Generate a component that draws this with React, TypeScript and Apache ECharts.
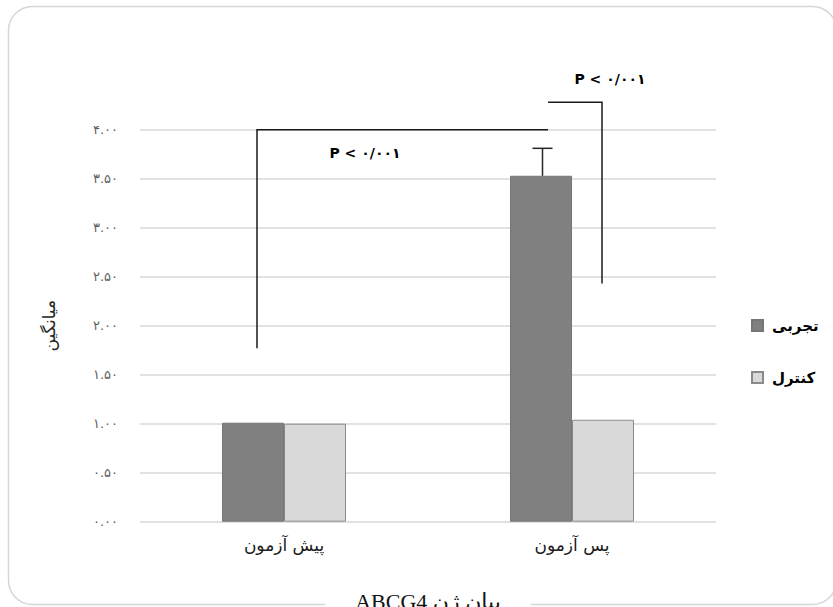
import React, { useEffect, useRef } from 'react';
import * as echarts from 'echarts';

// ---- data ----
const categories = ['پیش آزمون', 'پس آزمون'];
const seriesNames = ['تجربی', 'کنترل'];
const experimentalValues = [1.01, 3.53];
const controlValues = [1.0, 1.04];
// error bar on experimental post-test: [category index, bar value, upper value]
const errorBars = [[1, 3.53, 3.81]];
const yTickLabels = ['۰.۰۰', '۰.۵۰', '۱.۰۰', '۱.۵۰', '۲.۰۰', '۲.۵۰', '۳.۰۰', '۳.۵۰', '۴.۰۰'];
const yAxisTitle = 'میانگین';
const xAxisTitle = 'ABCG4 بیان ژن';
const pLabel = 'P < ۰/۰۰۱';
// significance brackets (value levels)
const bracketAValues = [1.77, 4.0]; // left leg bottom, horizontal level
const bracketBValues = [4.28, 2.43]; // horizontal level, right leg bottom
const pLabelLevels = [3.76, 4.52];

const ARABIC_FONT = '"DejaVu Sans", sans-serif';

export default function App() {
  const ref = useRef<HTMLDivElement>(null);
  useEffect(() => {
    if (!ref.current) return;
    const chart = echarts.init(ref.current, null, { renderer: 'svg' });
    const option: any = {
      animation: false,
      backgroundColor: '#ffffff',
      graphic: [
        {
          type: 'rect',
          z: 0,
          silent: true,
          shape: { x: 8.5, y: 6.5, width: 828, height: 598, r: 24 },
          style: { fill: 'none', stroke: '#d6d6d6', lineWidth: 1.5 },
        },
      ],
      grid: {
        left: 140,
        right: 117,
        top: 129.7,
        bottom: 607 - 521.7,
        containLabel: false,
        outerBoundsMode: 'none',
      },
      legend: {
        orient: 'vertical',
        left: 751,
        top: 318,
        padding: 0,
        itemWidth: 11,
        itemHeight: 11,
        itemGap: 37,
        icon: 'rect',
        data: seriesNames,
        textStyle: {
          fontFamily: ARABIC_FONT,
          fontWeight: 'bold',
          fontSize: 15,
          color: '#000000',
          padding: [10, 0, 0, 4],
        },
      },
      xAxis: {
        type: 'category',
        data: categories,
        z: 10,
        axisLine: { show: false },
        axisTick: { show: false },
        axisLabel: {
          fontFamily: ARABIC_FONT,
          fontSize: 17,
          color: '#1a1a1a',
          margin: 15,
        },
        name: xAxisTitle,
        nameLocation: 'middle',
        nameGap: 67,
        nameTextStyle: {
          fontFamily: '"Liberation Serif", "DejaVu Sans", serif',
          fontSize: 22,
          color: '#111111',
          backgroundColor: '#ffffff',
          padding: [2, 30, 4, 30],
        },
      },
      yAxis: {
        type: 'value',
        min: 0,
        max: 4,
        interval: 0.5,
        axisLine: { show: false },
        axisTick: { show: false },
        splitLine: { lineStyle: { color: '#d9d9d9', width: 1.5 } },
        axisLabel: {
          fontFamily: ARABIC_FONT,
          fontSize: 13,
          color: '#606060',
          margin: 22,
          formatter: (v: number) => yTickLabels[Math.round(v / 0.5)] ?? '',
        },
        name: yAxisTitle,
        nameLocation: 'middle',
        nameRotate: 90,
        nameGap: 83,
        nameTextStyle: { fontFamily: ARABIC_FONT, fontSize: 17, color: '#262626' },
      },
      series: [
        {
          name: seriesNames[0],
          type: 'bar',
          data: experimentalValues,
          barWidth: 62,
          barGap: '0%',
          itemStyle: { color: '#808080', borderColor: '#767676', borderWidth: 1 },
        },
        {
          name: seriesNames[1],
          type: 'bar',
          data: controlValues,
          barWidth: 62,
          barGap: '0%',
          itemStyle: { color: '#d9d9d9', borderColor: '#8a8a8a', borderWidth: 1 },
        },
        {
          type: 'custom',
          name: 'error',
          data: errorBars,
          z: 5,
          silent: true,
          renderItem: (params: any, api: any) => {
            const c = api.value(0);
            const base = api.coord([c, api.value(1)]);
            const top = api.coord([c, api.value(2)]);
            const x = base[0] - 29.5;
            return {
              type: 'group',
              children: [
                { type: 'line', shape: { x1: x, y1: base[1], x2: x, y2: top[1] }, style: { stroke: '#262626', lineWidth: 1.5 } },
                { type: 'line', shape: { x1: x - 10, y1: top[1], x2: x + 10, y2: top[1] }, style: { stroke: '#262626', lineWidth: 1.5 } },
              ],
            };
          },
        },
        {
          type: 'custom',
          name: 'brackets',
          data: [[0, 0]],
          z: 6,
          silent: true,
          clip: false,
          renderItem: (params: any, api: any) => {
            const a0 = api.coord([0, bracketAValues[0]]);
            const a1 = api.coord([0, bracketAValues[1]]);
            const a2 = api.coord([1, bracketAValues[1]]);
            const xl = a0[0] - 27;
            const xr = a2[0] - 24;
            const b0 = api.coord([1, bracketBValues[0]]);
            const b1 = api.coord([1, bracketBValues[1]]);
            const xr2 = b0[0] + 30;
            const t1 = api.coord([0, pLabelLevels[0]]);
            const t2 = api.coord([1, pLabelLevels[1]]);
            const lineStyle = { stroke: '#1a1a1a', lineWidth: 1.5, fill: 'none' };
            const textStyle = {
              fontFamily: ARABIC_FONT,
              fontWeight: 'bold',
              fontSize: 14,
              fill: '#000000',
              align: 'center',
              verticalAlign: 'middle',
            };
            return {
              type: 'group',
              children: [
                { type: 'polyline', shape: { points: [[xl, a0[1]], [xl, a1[1]], [xr, a1[1]]] }, style: lineStyle },
                { type: 'polyline', shape: { points: [[xr, b0[1]], [xr2, b0[1]], [xr2, b1[1]]] }, style: lineStyle },
                { type: 'text', x: t1[0] + 81, y: t1[1], style: { ...textStyle, text: pLabel } },
                { type: 'text', x: t2[0] + 38, y: t2[1], style: { ...textStyle, text: pLabel } },
              ],
            };
          },
        },
      ],
    };
    chart.setOption(option);
    return () => chart.dispose();
  }, []);
  return (
    <div
      ref={ref}
      style={{ position: 'absolute', left: 0, top: 0, width: 833, height: 607, overflow: 'hidden' }}
    />
  );
}
